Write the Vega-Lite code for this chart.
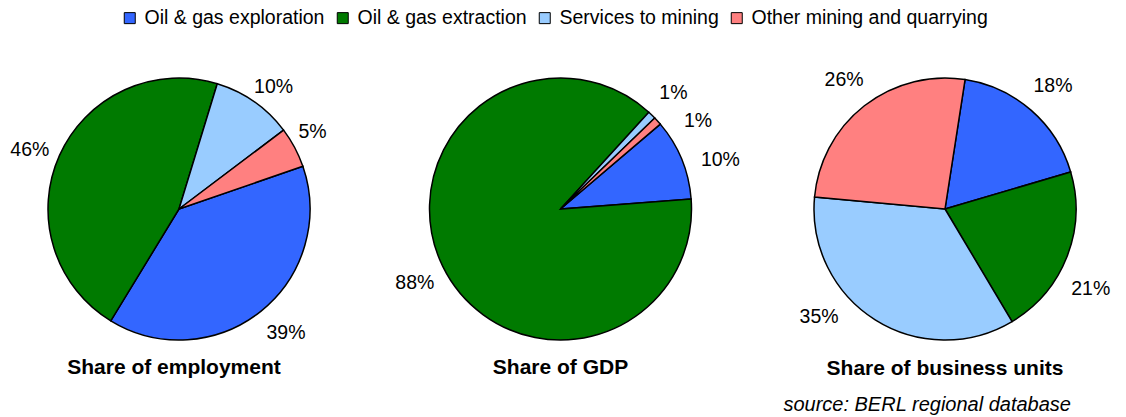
{
  "$schema": "https://vega.github.io/schema/vega-lite/v6.json",
  "background": "white",
  "padding": {"left": 9, "top": 8, "right": 0, "bottom": 0},
  "bounds": "flush",
  "datasets": {
    "pies": [
      {"chart": "employment", "category": "Oil & gas exploration", "rank": 1, "share": 0.39},
      {"chart": "employment", "category": "Oil & gas extraction", "rank": 2, "share": 0.46},
      {"chart": "employment", "category": "Services to mining", "rank": 3, "share": 0.10},
      {"chart": "employment", "category": "Other mining and quarrying", "rank": 4, "share": 0.05},
      {"chart": "gdp", "category": "Oil & gas exploration", "rank": 1, "share": 0.10},
      {"chart": "gdp", "category": "Oil & gas extraction", "rank": 2, "share": 0.88},
      {"chart": "gdp", "category": "Services to mining", "rank": 3, "share": 0.01},
      {"chart": "gdp", "category": "Other mining and quarrying", "rank": 4, "share": 0.01},
      {"chart": "units", "category": "Oil & gas exploration", "rank": 1, "share": 0.18},
      {"chart": "units", "category": "Oil & gas extraction", "rank": 2, "share": 0.21},
      {"chart": "units", "category": "Services to mining", "rank": 3, "share": 0.35},
      {"chart": "units", "category": "Other mining and quarrying", "rank": 4, "share": 0.26}
    ]
  },
  "title": {
    "text": "source: BERL regional database",
    "orient": "bottom",
    "anchor": "end",
    "fontSize": 20,
    "fontStyle": "italic",
    "fontWeight": "normal",
    "dx": -47,
    "offset": 16
  },
  "config": {
    "view": {"stroke": null},
    "font": "Liberation Sans",
    "title": {"fontSize": 21, "fontWeight": "bold", "color": "black"},
    "text": {"color": "black", "fontSize": 19.5, "align": "center", "baseline": "middle"}
  },
  "spacing": 43,
  "resolve": {"scale": {"theta": "independent"}},
  "hconcat": [
    {
      "width": 340,
      "height": 262,
      "title": {"text": "Share of employment", "orient": "bottom", "offset": 8, "dx": -5},
      "data": {"name": "pies"},
      "transform": [{"filter": "datum.chart === 'employment'"}],
      "encoding": {
        "theta": {"field": "share", "type": "quantitative", "stack": true, "scale": {"range": [1.239, 7.522]}},
        "color": {
          "field": "category",
          "type": "nominal",
          "scale": {
            "domain": ["Oil & gas exploration", "Oil & gas extraction", "Services to mining", "Other mining and quarrying"],
            "range": ["#3366FF", "#007A00", "#99CCFF", "#FF8080"]
          },
          "legend": {
            "orient": "none",
            "legendX": 111,
            "legendY": -70,
            "direction": "horizontal",
            "title": null,
            "symbolType": "square",
            "symbolSize": 121,
            "symbolStrokeColor": "black",
            "symbolStrokeWidth": 1,
            "labelFontSize": 19.5,
            "labelColor": "black",
            "labelOffset": 5,
            "labelLimit": 0,
            "columnPadding": 8
          }
        },
        "order": {"field": "rank", "type": "quantitative"}
      },
      "layer": [
        {"mark": {"type": "arc", "radius": 131, "stroke": "black", "strokeWidth": 1.5}},
        {
          "mark": {"type": "text", "radius": 158, "dx": 8, "dy": 1},
          "encoding": {
            "text": {"condition": {"test": "datum.category === 'Oil & gas exploration'", "field": "share", "type": "quantitative", "format": ".0%"}, "value": ""},
            "color": {"value": "black"},
            "detail": {"field": "category"}
          }
        },
        {
          "mark": {"type": "text", "radius": 158, "dx": -5, "dy": 6},
          "encoding": {
            "text": {"condition": {"test": "datum.category === 'Oil & gas extraction'", "field": "share", "type": "quantitative", "format": ".0%"}, "value": ""},
            "color": {"value": "black"},
            "detail": {"field": "category"}
          }
        },
        {
          "mark": {"type": "text", "radius": 158, "dx": 4, "dy": 7},
          "encoding": {
            "text": {"condition": {"test": "datum.category === 'Services to mining'", "field": "share", "type": "quantitative", "format": ".0%"}, "value": ""},
            "color": {"value": "black"},
            "detail": {"field": "category"}
          }
        },
        {
          "mark": {"type": "text", "radius": 158, "dx": -6, "dy": -3},
          "encoding": {
            "text": {"condition": {"test": "datum.category === 'Other mining and quarrying'", "field": "share", "type": "quantitative", "format": ".0%"}, "value": ""},
            "color": {"value": "black"},
            "detail": {"field": "category"}
          }
        }
      ]
    },
    {
      "width": 337,
      "height": 262,
      "title": {"text": "Share of GDP", "orient": "bottom", "offset": 14},
      "data": {"name": "pies"},
      "transform": [{"filter": "datum.chart === 'gdp'"}],
      "encoding": {
        "theta": {"field": "share", "type": "quantitative", "stack": true, "scale": {"range": [0.866, 7.149]}},
        "color": {
          "field": "category",
          "type": "nominal",
          "scale": {
            "domain": ["Oil & gas exploration", "Oil & gas extraction", "Services to mining", "Other mining and quarrying"],
            "range": ["#3366FF", "#007A00", "#99CCFF", "#FF8080"]
          }
        },
        "order": {"field": "rank", "type": "quantitative"}
      },
      "layer": [
        {"mark": {"type": "arc", "radius": 131, "stroke": "black", "strokeWidth": 1.5}},
        {
          "mark": {"type": "text", "radius": 162},
          "encoding": {
            "text": {"condition": {"test": "datum.category === 'Services to mining'", "field": "share", "type": "quantitative", "format": ".0%"}, "value": ""},
            "color": {"value": "black"},
            "detail": {"field": "category"}
          }
        },
        {
          "mark": {"type": "text", "radius": 162, "dy": 3},
          "encoding": {
            "text": {"condition": {"test": "datum.category === 'Oil & gas extraction'", "field": "share", "type": "quantitative", "format": ".0%"}, "value": ""},
            "color": {"value": "black"},
            "detail": {"field": "category"}
          }
        },
        {
          "mark": {"type": "text", "radius": 160, "dx": 19, "dy": 19},
          "encoding": {
            "text": {"condition": {"test": "datum.category === 'Other mining and quarrying'", "field": "share", "type": "quantitative", "format": ".0%"}, "value": ""},
            "color": {"value": "black"},
            "detail": {"field": "category"}
          }
        },
        {
          "mark": {"type": "text", "radius": 160, "dx": 12, "dy": 12},
          "encoding": {
            "text": {"condition": {"test": "datum.category === 'Oil & gas exploration'", "field": "share", "type": "quantitative", "format": ".0%"}, "value": ""},
            "color": {"value": "black"},
            "detail": {"field": "category"}
          }
        }
      ]
    },
    {
      "width": 346,
      "height": 262,
      "title": {"text": "Share of business units", "orient": "bottom", "offset": -19},
      "data": {"name": "pies"},
      "transform": [{"filter": "datum.chart === 'units'"}],
      "encoding": {
        "theta": {"field": "share", "type": "quantitative", "stack": true, "scale": {"range": [0.1536, 6.437]}},
        "color": {
          "field": "category",
          "type": "nominal",
          "scale": {
            "domain": ["Oil & gas exploration", "Oil & gas extraction", "Services to mining", "Other mining and quarrying"],
            "range": ["#3366FF", "#007A00", "#99CCFF", "#FF8080"]
          }
        },
        "order": {"field": "rank", "type": "quantitative"}
      },
      "layer": [
        {"mark": {"type": "arc", "radius": 131, "stroke": "black", "strokeWidth": 1.5}},
        {
          "mark": {"type": "text", "radius": 164},
          "encoding": {
            "text": {"condition": {"test": "datum.category === 'Oil & gas exploration' || datum.category === 'Other mining and quarrying'", "field": "share", "type": "quantitative", "format": ".0%"}, "value": ""},
            "color": {"value": "black"},
            "detail": {"field": "category"}
          }
        },
        {
          "mark": {"type": "text", "radius": 163, "dx": -6, "dy": 21},
          "encoding": {
            "text": {"condition": {"test": "datum.category === 'Oil & gas extraction'", "field": "share", "type": "quantitative", "format": ".0%"}, "value": ""},
            "color": {"value": "black"},
            "detail": {"field": "category"}
          }
        },
        {
          "mark": {"type": "text", "radius": 163, "dx": -39, "dy": -30},
          "encoding": {
            "text": {"condition": {"test": "datum.category === 'Services to mining'", "field": "share", "type": "quantitative", "format": ".0%"}, "value": ""},
            "color": {"value": "black"},
            "detail": {"field": "category"}
          }
        }
      ]
    }
  ]
}
